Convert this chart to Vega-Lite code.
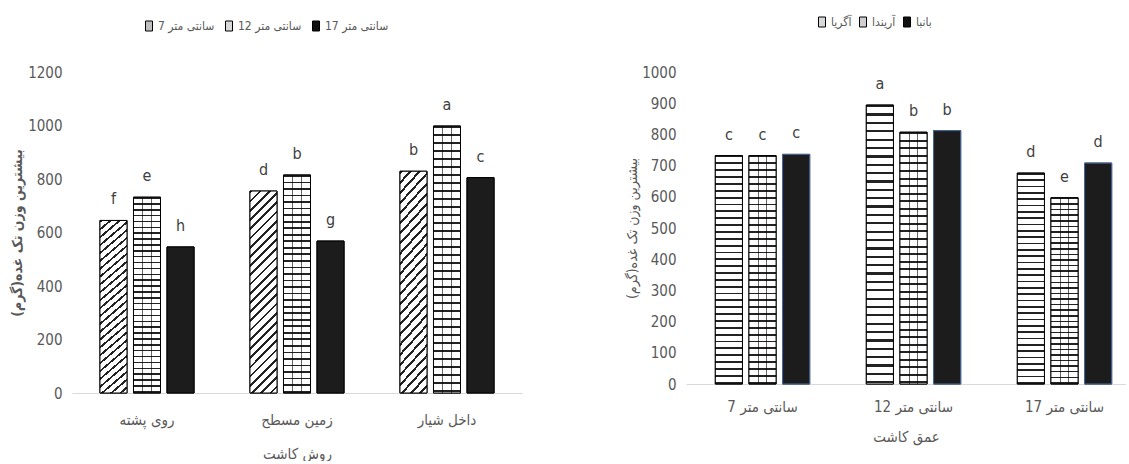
{
  "$schema": "https://vega.github.io/schema/vega-lite/v6.json",
  "padding": {"left": 10, "top": 16, "right": 0, "bottom": 0},
  "spacing": 103,
  "background": "white",
  "datasets": {
    "L": [
      {"m": "روی پشته", "d": "7 سانتی متر", "v": 645, "l": "f"},
      {"m": "روی پشته", "d": "12 سانتی متر", "v": 732, "l": "e"},
      {"m": "روی پشته", "d": "17 سانتی متر", "v": 546, "l": "h"},
      {"m": "زمین مسطح", "d": "7 سانتی متر", "v": 755, "l": "d"},
      {"m": "زمین مسطح", "d": "12 سانتی متر", "v": 815, "l": "b"},
      {"m": "زمین مسطح", "d": "17 سانتی متر", "v": 568, "l": "g"},
      {"m": "داخل شیار", "d": "7 سانتی متر", "v": 829, "l": "b"},
      {"m": "داخل شیار", "d": "12 سانتی متر", "v": 998, "l": "a"},
      {"m": "داخل شیار", "d": "17 سانتی متر", "v": 805, "l": "c"}
    ],
    "R": [
      {"d": "7 سانتی متر", "c": "آگریا", "v": 732, "l": "c"},
      {"d": "7 سانتی متر", "c": "آریندا", "v": 732, "l": "c"},
      {"d": "7 سانتی متر", "c": "بانبا", "v": 736, "l": "c"},
      {"d": "12 سانتی متر", "c": "آگریا", "v": 894, "l": "a"},
      {"d": "12 سانتی متر", "c": "آریندا", "v": 807, "l": "b"},
      {"d": "12 سانتی متر", "c": "بانبا", "v": 812, "l": "b"},
      {"d": "17 سانتی متر", "c": "آگریا", "v": 676, "l": "d"},
      {"d": "17 سانتی متر", "c": "آریندا", "v": 597, "l": "e"},
      {"d": "17 سانتی متر", "c": "بانبا", "v": 708, "l": "d"}
    ]
  },
  "hconcat": [
    {
      "width": 450,
      "height": 321,
      "data": {"name": "L"},
      "encoding": {
        "x": {"field": "m", "type": "nominal", "title": "روش کاشت",
          "scale": {"domain": ["روی پشته", "زمین مسطح", "داخل شیار"], "paddingInner": 0.373, "paddingOuter": 0.1865},
          "axis": {"labelAngle": 0, "domainColor": "#d9d9d9", "labelPadding": 19, "titlePadding": 19, "labelFontSize": 15, "titleFontSize": 15}},
        "xOffset": {"field": "d", "type": "nominal",
          "scale": {"domain": ["7 سانتی متر", "12 سانتی متر", "17 سانتی متر"], "paddingInner": 0.194, "paddingOuter": 0}},
        "y": {"field": "v", "type": "quantitative", "title": "بیشترین وزن تک غده(گرم)",
          "scale": {"domain": [0, 1200], "nice": false},
          "axis": {"values": [0, 200, 400, 600, 800, 1000, 1200], "format": "d", "labelPadding": 10, "titlePadding": 3, "domain": false, "titleFontWeight": "bold", "titleFontSize": 14}}
      },
      "layer": [
        {
          "mark": {"type": "bar", "stroke": "#000", "strokeWidth": 1},
          "encoding": {
            "color": {"field": "d", "type": "nominal",
              "scale": {"domain": ["7 سانتی متر", "12 سانتی متر", "17 سانتی متر"], "range": ["#bfbfbf", "#d9d9d9", "#111111"]},
              "legend": {"orient": "none", "legendX": 71, "legendY": -52, "direction": "horizontal", "columns": 3, "title": null, "columnPadding": 8, "labelFontSize": 12}}
          }
        },
        {
          "transform": [{"filter": {"field": "d", "equal": "7 سانتی متر"}}],
          "mark": {"type": "bar", "stroke": "#000", "strokeWidth": 1, "fill": {"gradient": "linear", "x1": 0, "y1": 0, "x2": 0.15, "y2": 1.12, "stops": [
            {"offset": 0, "color": "#222"}, {"offset": 0.012, "color": "#222"}, {"offset": 0.012, "color": "#fff"}, {"offset": 0.04, "color": "#fff"},
            {"offset": 0.04, "color": "#222"}, {"offset": 0.052, "color": "#222"}, {"offset": 0.052, "color": "#fff"}, {"offset": 0.08, "color": "#fff"},
            {"offset": 0.08, "color": "#222"}, {"offset": 0.092, "color": "#222"}, {"offset": 0.092, "color": "#fff"}, {"offset": 0.12, "color": "#fff"},
            {"offset": 0.12, "color": "#222"}, {"offset": 0.132, "color": "#222"}, {"offset": 0.132, "color": "#fff"}, {"offset": 0.16, "color": "#fff"},
            {"offset": 0.16, "color": "#222"}, {"offset": 0.172, "color": "#222"}, {"offset": 0.172, "color": "#fff"}, {"offset": 0.2, "color": "#fff"},
            {"offset": 0.2, "color": "#222"}, {"offset": 0.212, "color": "#222"}, {"offset": 0.212, "color": "#fff"}, {"offset": 0.24, "color": "#fff"},
            {"offset": 0.24, "color": "#222"}, {"offset": 0.252, "color": "#222"}, {"offset": 0.252, "color": "#fff"}, {"offset": 0.28, "color": "#fff"},
            {"offset": 0.28, "color": "#222"}, {"offset": 0.292, "color": "#222"}, {"offset": 0.292, "color": "#fff"}, {"offset": 0.32, "color": "#fff"},
            {"offset": 0.32, "color": "#222"}, {"offset": 0.332, "color": "#222"}, {"offset": 0.332, "color": "#fff"}, {"offset": 0.36, "color": "#fff"},
            {"offset": 0.36, "color": "#222"}, {"offset": 0.372, "color": "#222"}, {"offset": 0.372, "color": "#fff"}, {"offset": 0.4, "color": "#fff"},
            {"offset": 0.4, "color": "#222"}, {"offset": 0.412, "color": "#222"}, {"offset": 0.412, "color": "#fff"}, {"offset": 0.44, "color": "#fff"},
            {"offset": 0.44, "color": "#222"}, {"offset": 0.452, "color": "#222"}, {"offset": 0.452, "color": "#fff"}, {"offset": 0.48, "color": "#fff"},
            {"offset": 0.48, "color": "#222"}, {"offset": 0.492, "color": "#222"}, {"offset": 0.492, "color": "#fff"}, {"offset": 0.52, "color": "#fff"},
            {"offset": 0.52, "color": "#222"}, {"offset": 0.532, "color": "#222"}, {"offset": 0.532, "color": "#fff"}, {"offset": 0.56, "color": "#fff"},
            {"offset": 0.56, "color": "#222"}, {"offset": 0.572, "color": "#222"}, {"offset": 0.572, "color": "#fff"}, {"offset": 0.6, "color": "#fff"},
            {"offset": 0.6, "color": "#222"}, {"offset": 0.612, "color": "#222"}, {"offset": 0.612, "color": "#fff"}, {"offset": 0.64, "color": "#fff"},
            {"offset": 0.64, "color": "#222"}, {"offset": 0.652, "color": "#222"}, {"offset": 0.652, "color": "#fff"}, {"offset": 0.68, "color": "#fff"},
            {"offset": 0.68, "color": "#222"}, {"offset": 0.692, "color": "#222"}, {"offset": 0.692, "color": "#fff"}, {"offset": 0.72, "color": "#fff"},
            {"offset": 0.72, "color": "#222"}, {"offset": 0.732, "color": "#222"}, {"offset": 0.732, "color": "#fff"}, {"offset": 0.76, "color": "#fff"},
            {"offset": 0.76, "color": "#222"}, {"offset": 0.772, "color": "#222"}, {"offset": 0.772, "color": "#fff"}, {"offset": 0.8, "color": "#fff"},
            {"offset": 0.8, "color": "#222"}, {"offset": 0.812, "color": "#222"}, {"offset": 0.812, "color": "#fff"}, {"offset": 0.84, "color": "#fff"},
            {"offset": 0.84, "color": "#222"}, {"offset": 0.852, "color": "#222"}, {"offset": 0.852, "color": "#fff"}, {"offset": 0.88, "color": "#fff"},
            {"offset": 0.88, "color": "#222"}, {"offset": 0.892, "color": "#222"}, {"offset": 0.892, "color": "#fff"}, {"offset": 0.92, "color": "#fff"},
            {"offset": 0.92, "color": "#222"}, {"offset": 0.932, "color": "#222"}, {"offset": 0.932, "color": "#fff"}, {"offset": 0.96, "color": "#fff"},
            {"offset": 0.96, "color": "#222"}, {"offset": 0.972, "color": "#222"}, {"offset": 0.972, "color": "#fff"}, {"offset": 1, "color": "#fff"}
          ]}}
        },
        {
          "transform": [{"filter": {"field": "d", "equal": "12 سانتی متر"}}],
          "mark": {"type": "bar", "stroke": "#000", "strokeWidth": 1, "fill": {"gradient": "linear", "x1": 0, "y1": 0, "x2": 0, "y2": 1, "stops": [
            {"offset": 0, "color": "#222"}, {"offset": 0.008, "color": "#222"}, {"offset": 0.008, "color": "#fff"}, {"offset": 0.03, "color": "#fff"},
            {"offset": 0.03, "color": "#222"}, {"offset": 0.038, "color": "#222"}, {"offset": 0.038, "color": "#fff"}, {"offset": 0.06, "color": "#fff"},
            {"offset": 0.06, "color": "#222"}, {"offset": 0.068, "color": "#222"}, {"offset": 0.068, "color": "#fff"}, {"offset": 0.09, "color": "#fff"},
            {"offset": 0.09, "color": "#222"}, {"offset": 0.098, "color": "#222"}, {"offset": 0.098, "color": "#fff"}, {"offset": 0.12, "color": "#fff"},
            {"offset": 0.12, "color": "#222"}, {"offset": 0.128, "color": "#222"}, {"offset": 0.128, "color": "#fff"}, {"offset": 0.15, "color": "#fff"},
            {"offset": 0.15, "color": "#222"}, {"offset": 0.158, "color": "#222"}, {"offset": 0.158, "color": "#fff"}, {"offset": 0.18, "color": "#fff"},
            {"offset": 0.18, "color": "#222"}, {"offset": 0.188, "color": "#222"}, {"offset": 0.188, "color": "#fff"}, {"offset": 0.21, "color": "#fff"},
            {"offset": 0.21, "color": "#222"}, {"offset": 0.218, "color": "#222"}, {"offset": 0.218, "color": "#fff"}, {"offset": 0.24, "color": "#fff"},
            {"offset": 0.24, "color": "#222"}, {"offset": 0.248, "color": "#222"}, {"offset": 0.248, "color": "#fff"}, {"offset": 0.27, "color": "#fff"},
            {"offset": 0.27, "color": "#222"}, {"offset": 0.278, "color": "#222"}, {"offset": 0.278, "color": "#fff"}, {"offset": 0.3, "color": "#fff"},
            {"offset": 0.3, "color": "#222"}, {"offset": 0.308, "color": "#222"}, {"offset": 0.308, "color": "#fff"}, {"offset": 0.33, "color": "#fff"},
            {"offset": 0.33, "color": "#222"}, {"offset": 0.338, "color": "#222"}, {"offset": 0.338, "color": "#fff"}, {"offset": 0.36, "color": "#fff"},
            {"offset": 0.36, "color": "#222"}, {"offset": 0.368, "color": "#222"}, {"offset": 0.368, "color": "#fff"}, {"offset": 0.39, "color": "#fff"},
            {"offset": 0.39, "color": "#222"}, {"offset": 0.398, "color": "#222"}, {"offset": 0.398, "color": "#fff"}, {"offset": 0.42, "color": "#fff"},
            {"offset": 0.42, "color": "#222"}, {"offset": 0.428, "color": "#222"}, {"offset": 0.428, "color": "#fff"}, {"offset": 0.45, "color": "#fff"},
            {"offset": 0.45, "color": "#222"}, {"offset": 0.458, "color": "#222"}, {"offset": 0.458, "color": "#fff"}, {"offset": 0.48, "color": "#fff"},
            {"offset": 0.48, "color": "#222"}, {"offset": 0.488, "color": "#222"}, {"offset": 0.488, "color": "#fff"}, {"offset": 0.51, "color": "#fff"},
            {"offset": 0.51, "color": "#222"}, {"offset": 0.518, "color": "#222"}, {"offset": 0.518, "color": "#fff"}, {"offset": 0.54, "color": "#fff"},
            {"offset": 0.54, "color": "#222"}, {"offset": 0.548, "color": "#222"}, {"offset": 0.548, "color": "#fff"}, {"offset": 0.57, "color": "#fff"},
            {"offset": 0.57, "color": "#222"}, {"offset": 0.578, "color": "#222"}, {"offset": 0.578, "color": "#fff"}, {"offset": 0.6, "color": "#fff"},
            {"offset": 0.6, "color": "#222"}, {"offset": 0.608, "color": "#222"}, {"offset": 0.608, "color": "#fff"}, {"offset": 0.63, "color": "#fff"},
            {"offset": 0.63, "color": "#222"}, {"offset": 0.638, "color": "#222"}, {"offset": 0.638, "color": "#fff"}, {"offset": 0.66, "color": "#fff"},
            {"offset": 0.66, "color": "#222"}, {"offset": 0.668, "color": "#222"}, {"offset": 0.668, "color": "#fff"}, {"offset": 0.69, "color": "#fff"},
            {"offset": 0.69, "color": "#222"}, {"offset": 0.698, "color": "#222"}, {"offset": 0.698, "color": "#fff"}, {"offset": 0.72, "color": "#fff"},
            {"offset": 0.72, "color": "#222"}, {"offset": 0.728, "color": "#222"}, {"offset": 0.728, "color": "#fff"}, {"offset": 0.75, "color": "#fff"},
            {"offset": 0.75, "color": "#222"}, {"offset": 0.758, "color": "#222"}, {"offset": 0.758, "color": "#fff"}, {"offset": 0.78, "color": "#fff"},
            {"offset": 0.78, "color": "#222"}, {"offset": 0.788, "color": "#222"}, {"offset": 0.788, "color": "#fff"}, {"offset": 0.81, "color": "#fff"},
            {"offset": 0.81, "color": "#222"}, {"offset": 0.818, "color": "#222"}, {"offset": 0.818, "color": "#fff"}, {"offset": 0.84, "color": "#fff"},
            {"offset": 0.84, "color": "#222"}, {"offset": 0.848, "color": "#222"}, {"offset": 0.848, "color": "#fff"}, {"offset": 0.87, "color": "#fff"},
            {"offset": 0.87, "color": "#222"}, {"offset": 0.878, "color": "#222"}, {"offset": 0.878, "color": "#fff"}, {"offset": 0.9, "color": "#fff"},
            {"offset": 0.9, "color": "#222"}, {"offset": 0.908, "color": "#222"}, {"offset": 0.908, "color": "#fff"}, {"offset": 0.93, "color": "#fff"},
            {"offset": 0.93, "color": "#222"}, {"offset": 0.938, "color": "#222"}, {"offset": 0.938, "color": "#fff"}, {"offset": 0.96, "color": "#fff"},
            {"offset": 0.96, "color": "#222"}, {"offset": 0.968, "color": "#222"}, {"offset": 0.968, "color": "#fff"}, {"offset": 0.99, "color": "#fff"},
            {"offset": 0.99, "color": "#222"}, {"offset": 0.998, "color": "#222"}, {"offset": 0.998, "color": "#fff"}, {"offset": 1, "color": "#fff"}
          ]}}
        },
        {
          "transform": [{"filter": {"field": "d", "equal": "12 سانتی متر"}}],
          "mark": {"type": "bar", "strokeWidth": 0, "fill": {"gradient": "linear", "x1": 0, "y1": 0, "x2": 1, "y2": 0, "stops": [
            {"offset": 0, "color": "rgba(0,0,0,0)"}, {"offset": 0.32, "color": "rgba(0,0,0,0)"}, {"offset": 0.32, "color": "rgba(0,0,0,0.6)"}, {"offset": 0.37, "color": "rgba(0,0,0,0.6)"},
            {"offset": 0.37, "color": "rgba(0,0,0,0)"}, {"offset": 0.63, "color": "rgba(0,0,0,0)"}, {"offset": 0.63, "color": "rgba(0,0,0,0.6)"}, {"offset": 0.68, "color": "rgba(0,0,0,0.6)"},
            {"offset": 0.68, "color": "rgba(0,0,0,0)"}, {"offset": 1, "color": "rgba(0,0,0,0)"}
          ]}}
        },
        {
          "transform": [{"filter": {"field": "d", "equal": "17 سانتی متر"}}],
          "mark": {"type": "bar", "stroke": "#000", "strokeWidth": 1, "fill": "#1c1c1c"}
        },
        {
          "mark": {"type": "text", "baseline": "alphabetic", "dy": -16, "fontSize": 16, "fill": "#404040"},
          "encoding": {"text": {"field": "l", "type": "nominal"}}
        }
      ]
    },
    {
      "width": 440,
      "height": 312,
      "data": {"name": "R"},
      "encoding": {
        "x": {"field": "d", "type": "nominal", "title": "عمق کاشت",
          "scale": {"domain": ["7 سانتی متر", "12 سانتی متر", "17 سانتی متر"], "paddingInner": 0.375, "paddingOuter": 0.1445, "align": 0.672},
          "axis": {"labelAngle": 0, "domainColor": "#d9d9d9", "labelPadding": 15, "titlePadding": 15, "labelFontSize": 15, "titleFontSize": 15}},
        "xOffset": {"field": "c", "type": "nominal",
          "scale": {"domain": ["آگریا", "آریندا", "بانبا"], "paddingInner": 0.194, "paddingOuter": 0}},
        "y": {"field": "v", "type": "quantitative", "title": "بیشترین وزن تک غده(گرم)",
          "scale": {"domain": [0, 1000], "nice": false},
          "axis": {"values": [0, 100, 200, 300, 400, 500, 600, 700, 800, 900, 1000], "format": "d", "labelPadding": 10, "titlePadding": 2, "domain": false, "titleFontSize": 14}}
      },
      "layer": [
        {
          "mark": {"type": "bar", "stroke": "#000", "strokeWidth": 1},
          "encoding": {
            "color": {"field": "c", "type": "nominal",
              "scale": {"domain": ["آگریا", "آریندا", "بانبا"], "range": ["#d9d9d9", "#cfcfcf", "#111111"]},
              "legend": {"orient": "none", "legendX": 130, "legendY": -56, "direction": "horizontal", "columns": 3, "title": null, "labelFontSize": 12, "columnPadding": 5}}
          }
        },
        {
          "transform": [{"filter": {"field": "c", "oneOf": ["آگریا", "آریندا"]}}],
          "mark": {"type": "bar", "stroke": "#000", "strokeWidth": 1, "fill": {"gradient": "linear", "x1": 0, "y1": 0, "x2": 0, "y2": 1, "stops": [
            {"offset": 0, "color": "#222"}, {"offset": 0.008, "color": "#222"}, {"offset": 0.008, "color": "#fff"}, {"offset": 0.03, "color": "#fff"},
            {"offset": 0.03, "color": "#222"}, {"offset": 0.038, "color": "#222"}, {"offset": 0.038, "color": "#fff"}, {"offset": 0.06, "color": "#fff"},
            {"offset": 0.06, "color": "#222"}, {"offset": 0.068, "color": "#222"}, {"offset": 0.068, "color": "#fff"}, {"offset": 0.09, "color": "#fff"},
            {"offset": 0.09, "color": "#222"}, {"offset": 0.098, "color": "#222"}, {"offset": 0.098, "color": "#fff"}, {"offset": 0.12, "color": "#fff"},
            {"offset": 0.12, "color": "#222"}, {"offset": 0.128, "color": "#222"}, {"offset": 0.128, "color": "#fff"}, {"offset": 0.15, "color": "#fff"},
            {"offset": 0.15, "color": "#222"}, {"offset": 0.158, "color": "#222"}, {"offset": 0.158, "color": "#fff"}, {"offset": 0.18, "color": "#fff"},
            {"offset": 0.18, "color": "#222"}, {"offset": 0.188, "color": "#222"}, {"offset": 0.188, "color": "#fff"}, {"offset": 0.21, "color": "#fff"},
            {"offset": 0.21, "color": "#222"}, {"offset": 0.218, "color": "#222"}, {"offset": 0.218, "color": "#fff"}, {"offset": 0.24, "color": "#fff"},
            {"offset": 0.24, "color": "#222"}, {"offset": 0.248, "color": "#222"}, {"offset": 0.248, "color": "#fff"}, {"offset": 0.27, "color": "#fff"},
            {"offset": 0.27, "color": "#222"}, {"offset": 0.278, "color": "#222"}, {"offset": 0.278, "color": "#fff"}, {"offset": 0.3, "color": "#fff"},
            {"offset": 0.3, "color": "#222"}, {"offset": 0.308, "color": "#222"}, {"offset": 0.308, "color": "#fff"}, {"offset": 0.33, "color": "#fff"},
            {"offset": 0.33, "color": "#222"}, {"offset": 0.338, "color": "#222"}, {"offset": 0.338, "color": "#fff"}, {"offset": 0.36, "color": "#fff"},
            {"offset": 0.36, "color": "#222"}, {"offset": 0.368, "color": "#222"}, {"offset": 0.368, "color": "#fff"}, {"offset": 0.39, "color": "#fff"},
            {"offset": 0.39, "color": "#222"}, {"offset": 0.398, "color": "#222"}, {"offset": 0.398, "color": "#fff"}, {"offset": 0.42, "color": "#fff"},
            {"offset": 0.42, "color": "#222"}, {"offset": 0.428, "color": "#222"}, {"offset": 0.428, "color": "#fff"}, {"offset": 0.45, "color": "#fff"},
            {"offset": 0.45, "color": "#222"}, {"offset": 0.458, "color": "#222"}, {"offset": 0.458, "color": "#fff"}, {"offset": 0.48, "color": "#fff"},
            {"offset": 0.48, "color": "#222"}, {"offset": 0.488, "color": "#222"}, {"offset": 0.488, "color": "#fff"}, {"offset": 0.51, "color": "#fff"},
            {"offset": 0.51, "color": "#222"}, {"offset": 0.518, "color": "#222"}, {"offset": 0.518, "color": "#fff"}, {"offset": 0.54, "color": "#fff"},
            {"offset": 0.54, "color": "#222"}, {"offset": 0.548, "color": "#222"}, {"offset": 0.548, "color": "#fff"}, {"offset": 0.57, "color": "#fff"},
            {"offset": 0.57, "color": "#222"}, {"offset": 0.578, "color": "#222"}, {"offset": 0.578, "color": "#fff"}, {"offset": 0.6, "color": "#fff"},
            {"offset": 0.6, "color": "#222"}, {"offset": 0.608, "color": "#222"}, {"offset": 0.608, "color": "#fff"}, {"offset": 0.63, "color": "#fff"},
            {"offset": 0.63, "color": "#222"}, {"offset": 0.638, "color": "#222"}, {"offset": 0.638, "color": "#fff"}, {"offset": 0.66, "color": "#fff"},
            {"offset": 0.66, "color": "#222"}, {"offset": 0.668, "color": "#222"}, {"offset": 0.668, "color": "#fff"}, {"offset": 0.69, "color": "#fff"},
            {"offset": 0.69, "color": "#222"}, {"offset": 0.698, "color": "#222"}, {"offset": 0.698, "color": "#fff"}, {"offset": 0.72, "color": "#fff"},
            {"offset": 0.72, "color": "#222"}, {"offset": 0.728, "color": "#222"}, {"offset": 0.728, "color": "#fff"}, {"offset": 0.75, "color": "#fff"},
            {"offset": 0.75, "color": "#222"}, {"offset": 0.758, "color": "#222"}, {"offset": 0.758, "color": "#fff"}, {"offset": 0.78, "color": "#fff"},
            {"offset": 0.78, "color": "#222"}, {"offset": 0.788, "color": "#222"}, {"offset": 0.788, "color": "#fff"}, {"offset": 0.81, "color": "#fff"},
            {"offset": 0.81, "color": "#222"}, {"offset": 0.818, "color": "#222"}, {"offset": 0.818, "color": "#fff"}, {"offset": 0.84, "color": "#fff"},
            {"offset": 0.84, "color": "#222"}, {"offset": 0.848, "color": "#222"}, {"offset": 0.848, "color": "#fff"}, {"offset": 0.87, "color": "#fff"},
            {"offset": 0.87, "color": "#222"}, {"offset": 0.878, "color": "#222"}, {"offset": 0.878, "color": "#fff"}, {"offset": 0.9, "color": "#fff"},
            {"offset": 0.9, "color": "#222"}, {"offset": 0.908, "color": "#222"}, {"offset": 0.908, "color": "#fff"}, {"offset": 0.93, "color": "#fff"},
            {"offset": 0.93, "color": "#222"}, {"offset": 0.938, "color": "#222"}, {"offset": 0.938, "color": "#fff"}, {"offset": 0.96, "color": "#fff"},
            {"offset": 0.96, "color": "#222"}, {"offset": 0.968, "color": "#222"}, {"offset": 0.968, "color": "#fff"}, {"offset": 0.99, "color": "#fff"},
            {"offset": 0.99, "color": "#222"}, {"offset": 0.998, "color": "#222"}, {"offset": 0.998, "color": "#fff"}, {"offset": 1, "color": "#fff"}
          ]}}
        },
        {
          "transform": [{"filter": {"field": "c", "equal": "آریندا"}}],
          "mark": {"type": "bar", "strokeWidth": 0, "fill": {"gradient": "linear", "x1": 0, "y1": 0, "x2": 1, "y2": 0, "stops": [
            {"offset": 0, "color": "rgba(0,0,0,0)"}, {"offset": 0.32, "color": "rgba(0,0,0,0)"}, {"offset": 0.32, "color": "rgba(0,0,0,0.6)"}, {"offset": 0.37, "color": "rgba(0,0,0,0.6)"},
            {"offset": 0.37, "color": "rgba(0,0,0,0)"}, {"offset": 0.63, "color": "rgba(0,0,0,0)"}, {"offset": 0.63, "color": "rgba(0,0,0,0.6)"}, {"offset": 0.68, "color": "rgba(0,0,0,0.6)"},
            {"offset": 0.68, "color": "rgba(0,0,0,0)"}, {"offset": 1, "color": "rgba(0,0,0,0)"}
          ]}}
        },
        {
          "transform": [{"filter": {"field": "c", "equal": "بانبا"}}],
          "mark": {"type": "bar", "stroke": "#4a6da7", "strokeWidth": 1, "fill": "#1c1c1c"}
        },
        {
          "mark": {"type": "text", "baseline": "alphabetic", "dy": -16, "fontSize": 16, "fill": "#404040"},
          "encoding": {"text": {"field": "l", "type": "nominal"}}
        }
      ]
    }
  ],
  "resolve": {
    "scale": {"x": "independent", "y": "independent", "xOffset": "independent", "color": "independent"},
    "legend": {"color": "independent"}
  },
  "config": {
    "font": "Liberation Sans Narrow, DejaVu Sans Condensed, sans-serif",
    "view": {"stroke": null},
    "axis": {
      "grid": false,
      "ticks": false,
      "labelColor": "#595959",
      "titleColor": "#595959",
      "labelFontSize": 15,
      "titleFontWeight": "normal",
      "labelFont": "Liberation Sans Narrow, DejaVu Sans Condensed, sans-serif",
      "titleFont": "Liberation Sans Narrow, DejaVu Sans Condensed, sans-serif"
    },
    "legend": {
      "labelFont": "Liberation Sans Narrow, DejaVu Sans Condensed, sans-serif",
      "labelFontSize": 12,
      "labelColor": "#595959",
      "symbolType": "M-0.7,-1H0.7V1H-0.7Z",
      "symbolSize": 100,
      "symbolStrokeColor": "#000",
      "symbolStrokeWidth": 1,
      "symbolOpacity": 1,
      "labelOffset": 3
    }
  }
}
